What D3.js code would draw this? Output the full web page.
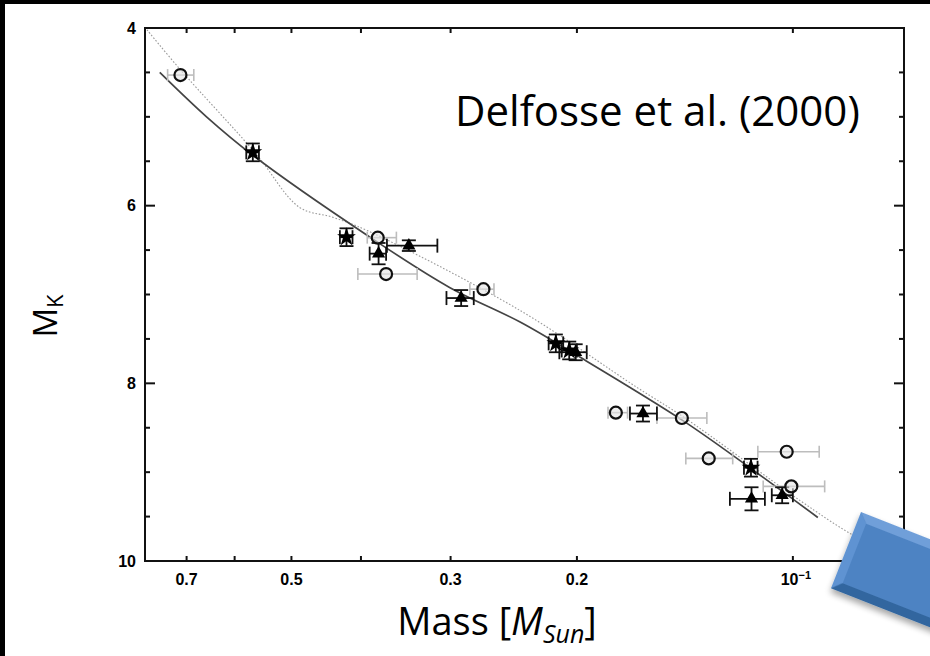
<!DOCTYPE html>
<html>
<head>
<meta charset="utf-8">
<script src="https://cdn.jsdelivr.net/npm/d3@7"></script>
<style>
  body { margin: 0; background: #fff; }
  svg { display: block; }
</style>
</head>
<body>
<script>
// mass-luminosity relation, Delfosse et al. (2000)
const massTicks = [0.7, 0.6, 0.5, 0.4, 0.3, 0.2, 0.1];
const massLabels = [0.7, 0.5, 0.3, 0.2];
const mkMajor = [4, 6, 8, 10];
const mkMinor = [4.5, 5, 5.5, 6.5, 7, 7.5, 8.5, 9, 9.5];

// open circles: mass, M_K, mass error range (grey bars)
const circles = [
  { m: 0.714, mk: 4.53, lo: 0.744, hi: 0.684 },
  { m: 0.379, mk: 6.36, lo: 0.392, hi: 0.357 },
  { m: 0.369, mk: 6.77, lo: 0.404, hi: 0.334 },
  { m: 0.270, mk: 6.94, lo: 0.282, hi: 0.261 },
  { m: 0.1765, mk: 8.33, lo: 0.181, hi: 0.170 },
  { m: 0.1428, mk: 8.39, lo: 0.1547, hi: 0.1318 },
  { m: 0.131, mk: 8.845, lo: 0.141, hi: 0.1213 },
  { m: 0.102, mk: 8.77, lo: 0.1119, hi: 0.0919 },
  { m: 0.1005, mk: 9.16, lo: 0.110, hi: 0.0903 }
];

// filled triangles: mass, M_K, mass error range, M_K error
const triangles = [
  { m: 0.343, mk: 6.45, lo: 0.368, hi: 0.313, dk: 0.06 },
  { m: 0.378, mk: 6.54, lo: 0.389, hi: 0.369, dk: 0.12 },
  { m: 0.290, mk: 7.04, lo: 0.304, hi: 0.2785, dk: 0.09 },
  { m: 0.2008, mk: 7.65, lo: 0.2116, hi: 0.1938, dk: 0.09 },
  { m: 0.1618, mk: 8.34, lo: 0.1687, hi: 0.1547, dk: 0.09 },
  { m: 0.1142, mk: 9.30, lo: 0.1224, hi: 0.1094, dk: 0.13 },
  { m: 0.1035, mk: 9.26, lo: 0.107, hi: 0.100, dk: 0.09 }
];

// stars: mass, M_K, mass error range, M_K error
const stars = [
  { m: 0.566, mk: 5.40, lo: 0.578, hi: 0.555, dk: 0.1 },
  { m: 0.419, mk: 6.355, lo: 0.428, hi: 0.411, dk: 0.1 },
  { m: 0.214, mk: 7.55, lo: 0.219, hi: 0.209, dk: 0.1 },
  { m: 0.205, mk: 7.63, lo: 0.210, hi: 0.200, dk: 0.1 },
  { m: 0.1144, mk: 8.95, lo: 0.117, hi: 0.112, dk: 0.1 }
];

// fitted relation (solid) and older relation (dotted)
const fitMass = [0.763, 0.6566, 0.5665, 0.3927, 0.301, 0.240, 0.200, 0.1423, 0.1148, 0.0923];
const fitMK = [4.50, 5.00, 5.43, 6.33, 6.92, 7.31, 7.685, 8.42, 8.95, 9.51];
const oldMass = [0.795, 0.714, 0.561, 0.487, 0.438, 0.392, 0.240, 0.165, 0.142, 0.0977, 0.0832, 0.072];
const oldMK = [4.02, 4.47, 5.41, 6.02, 6.13, 6.28, 7.18, 8.045, 8.38, 9.32, 9.69, 9.95];

const width = 930;
const height = 656;

const svg = d3.select('body')
  .append('svg')
  .attr('width', width)
  .attr('height', height);

// black slide frame at top and left
svg.append('rect').attr('x', 0).attr('y', 0).attr('width', width).attr('height', 4).attr('fill', '#000');
svg.append('rect').attr('x', 0).attr('y', 0).attr('width', 5).attr('height', height).attr('fill', '#000');

const x = d3.scaleLog().domain([0.8, 0.07]).range([145, 904]);
const y = d3.scaleLinear().domain([4, 10]).range([28, 561]);

const plot = svg.append('g');

// curves
const line = d3.line().x(d => x(d[0])).y(d => y(d[1])).curve(d3.curveCatmullRom);

plot.append('path')
  .attr('d', line(d3.zip(oldMass, oldMK)))
  .attr('fill', 'none')
  .attr('stroke', '#9a9a9a')
  .attr('stroke-width', 1.1)
  .attr('stroke-dasharray', '1.6,1.8');

plot.append('path')
  .attr('d', line(d3.zip(fitMass, fitMK)))
  .attr('fill', 'none')
  .attr('stroke', '#444')
  .attr('stroke-width', 1.7);

// error bar helper
function errorBars(data, color, width, cap) {
  const g = plot.append('g').attr('stroke', color).attr('stroke-width', width).attr('fill', 'none');
  data.forEach(d => {
    const cy = y(d.mk);
    g.append('line').attr('x1', x(d.lo)).attr('x2', x(d.hi)).attr('y1', cy).attr('y2', cy);
    g.append('line').attr('x1', x(d.lo)).attr('x2', x(d.lo)).attr('y1', cy - cap).attr('y2', cy + cap);
    g.append('line').attr('x1', x(d.hi)).attr('x2', x(d.hi)).attr('y1', cy - cap).attr('y2', cy + cap);
    if (d.dk) {
      const cx = x(d.m);
      const y0 = y(d.mk - d.dk), y1 = y(d.mk + d.dk);
      g.append('line').attr('x1', cx).attr('x2', cx).attr('y1', y0).attr('y2', y1);
      g.append('line').attr('x1', cx - cap).attr('x2', cx + cap).attr('y1', y0).attr('y2', y0);
      g.append('line').attr('x1', cx - cap).attr('x2', cx + cap).attr('y1', y1).attr('y2', y1);
    }
  });
}

errorBars(circles, '#bdbdbd', 1.6, 6);
errorBars(triangles, '#111', 1.8, 7);
errorBars(stars, '#111', 1.8, 7);

plot.selectAll('circle.pt')
  .data(circles)
  .join('circle')
  .attr('class', 'pt')
  .attr('cx', d => x(d.m))
  .attr('cy', d => y(d.mk))
  .attr('r', 6)
  .attr('fill', '#e4e4e4')
  .attr('fill-opacity', 0.6)
  .attr('stroke', '#111')
  .attr('stroke-width', 2.2);

plot.selectAll('path.tri')
  .data(triangles)
  .join('path')
  .attr('class', 'tri')
  .attr('transform', d => `translate(${x(d.m)},${y(d.mk)})`)
  .attr('d', d3.symbol(d3.symbolTriangle, 75))
  .attr('fill', '#000');

plot.selectAll('path.star')
  .data(stars)
  .join('path')
  .attr('class', 'star')
  .attr('transform', d => `translate(${x(d.m)},${y(d.mk)})`)
  .attr('d', d3.symbol(d3.symbolStar, 110))
  .attr('fill', '#000');

// axes frame
const axes = svg.append('g').attr('stroke', '#111').attr('stroke-width', 2).attr('fill', 'none');
axes.append('rect')
  .attr('x', x.range()[0]).attr('y', y.range()[0])
  .attr('width', x.range()[1] - x.range()[0])
  .attr('height', y.range()[1] - y.range()[0]);

const x0 = x.range()[0], x1 = x.range()[1];
const y0 = y.range()[0], y1 = y.range()[1];

massTicks.forEach(m => {
  axes.append('line').attr('x1', x(m)).attr('x2', x(m)).attr('y1', y0).attr('y2', y0 + 5);
  axes.append('line').attr('x1', x(m)).attr('x2', x(m)).attr('y1', y1).attr('y2', y1 - 5);
});
mkMajor.forEach(v => {
  axes.append('line').attr('x1', x0).attr('x2', x0 + 10).attr('y1', y(v)).attr('y2', y(v));
  axes.append('line').attr('x1', x1).attr('x2', x1 - 10).attr('y1', y(v)).attr('y2', y(v));
});
mkMinor.forEach(v => {
  axes.append('line').attr('x1', x0).attr('x2', x0 + 5).attr('y1', y(v)).attr('y2', y(v));
  axes.append('line').attr('x1', x1).attr('x2', x1 - 5).attr('y1', y(v)).attr('y2', y(v));
});

// tick labels
const tickFont = 'bold 16px "Liberation Sans", Arial, sans-serif';
svg.append('g')
  .selectAll('text')
  .data(mkMajor)
  .join('text')
  .attr('x', x0 - 9)
  .attr('y', d => y(d))
  .attr('dy', '0.36em')
  .attr('text-anchor', 'end')
  .style('font', tickFont)
  .text(d => d);

svg.append('g')
  .selectAll('text')
  .data(massLabels)
  .join('text')
  .attr('x', d => x(d))
  .attr('y', y1 + 24)
  .attr('text-anchor', 'middle')
  .style('font', tickFont)
  .text(d => d);

const tenth = svg.append('text')
  .attr('x', x(0.1) + 3)
  .attr('y', y1 + 24)
  .attr('text-anchor', 'middle')
  .style('font', tickFont);
tenth.append('tspan').text('10');
tenth.append('tspan').attr('dy', -6).style('font-size', '11px').text('\u22121');

// annotation
svg.append('text')
  .attr('x', 455)
  .attr('y', 126)
  .style('font', '42px "Open Sans", Lato, sans-serif')
  .attr('fill', '#000')
  .text('Delfosse et al. (2000)');

// axis titles
const xt = svg.append('text')
  .attr('x', 497)
  .attr('y', 635)
  .attr('text-anchor', 'middle')
  .style('font', '38px "Open Sans", Lato, sans-serif');
xt.append('tspan').text('Mass [');
xt.append('tspan').style('font-style', 'italic').text('M');
xt.append('tspan').attr('dy', 8).style('font-style', 'italic').style('font-size', '25px').text('Sun');
xt.append('tspan').attr('dy', -8).text(']');

const yt = svg.append('text')
  .attr('transform', 'translate(57,316) rotate(-90)')
  .attr('text-anchor', 'middle')
  .style('font', '33px "Open Sans", Lato, sans-serif');
yt.append('tspan').text('M');
yt.append('tspan').attr('dy', 6).style('font-size', '22px').text('K');

// blue bevelled shape in the corner
const defs = svg.append('defs');
const sh = defs.append('filter').attr('id', 'shadow').attr('x', '-20%').attr('y', '-20%').attr('width', '140%').attr('height', '140%');
sh.append('feGaussianBlur').attr('in', 'SourceAlpha').attr('stdDeviation', 3);
sh.append('feOffset').attr('dx', 1).attr('dy', 4).attr('result', 'b');
sh.append('feComponentTransfer').append('feFuncA').attr('type', 'linear').attr('slope', 0.35);
const mg = sh.append('feMerge');
mg.append('feMergeNode');
mg.append('feMergeNode').attr('in', 'SourceGraphic');

const bw = 180, bh = 82, bv = 9;
const box = svg.append('g')
  .attr('transform', 'translate(861,512) rotate(21.5)')
  .attr('filter', 'url(#shadow)');
box.append('rect').attr('width', bw).attr('height', bh).attr('fill', '#4a7ebb');
box.append('polygon').attr('points', `0,0 ${bw},0 ${bw - bv},${bv} ${bv},${bv}`).attr('fill', '#6f9fd9');
box.append('polygon').attr('points', `0,0 ${bv},${bv} ${bv},${bh - bv} 0,${bh}`).attr('fill', '#5f93d2');
box.append('polygon').attr('points', `0,${bh} ${bv},${bh - bv} ${bw - bv},${bh - bv} ${bw},${bh}`).attr('fill', '#33669f');
box.append('rect').attr('x', bv).attr('y', bv).attr('width', bw - 2 * bv).attr('height', bh - 2 * bv).attr('fill', '#4d83c3');
</script>
</body>
</html>
